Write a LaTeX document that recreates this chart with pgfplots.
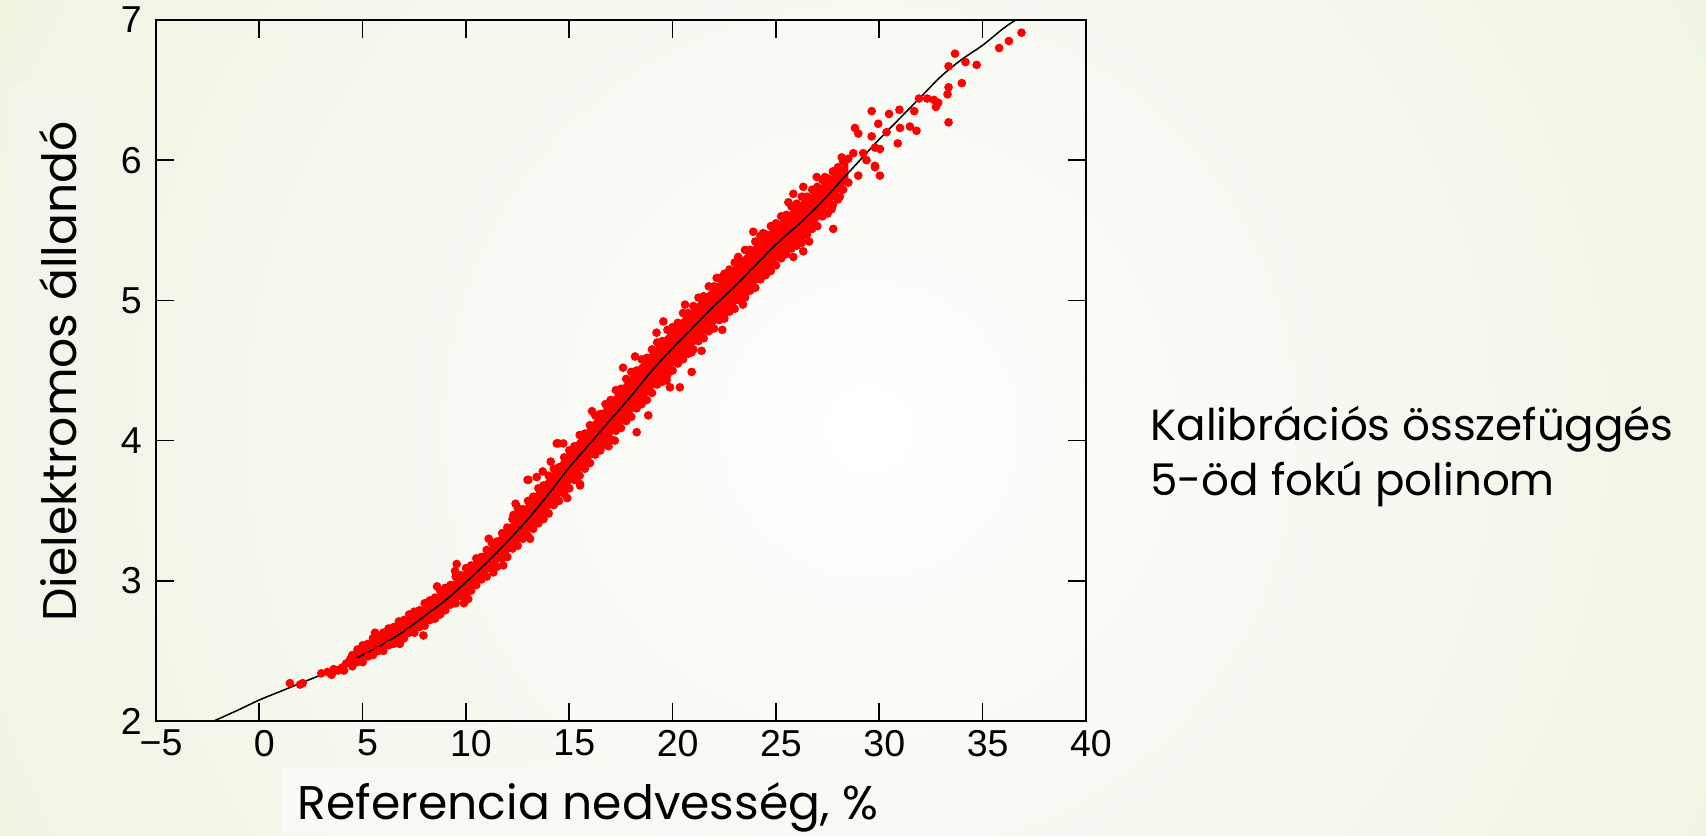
\documentclass[border=0pt]{standalone}
\usepackage{pgfplots}
\pgfplotsset{compat=1.18}
\usepackage{fontspec}
\setmainfont{Liberation Sans}
\newfontfamily\labelfont{Poppins}
\definecolor{bgout}{HTML}{DDE8C4}
\definecolor{ylbox}{HTML}{F2F6EA}
\definecolor{xlbox}{HTML}{F8FAF4}
\definecolor{dotred}{HTML}{FF0000}

\begin{document}
\begin{tikzpicture}
\fill[bgout] (0,0) rectangle (614.16pt,300.6pt);
\begin{scope}
\clip (0,0) rectangle (614.16pt,300.6pt);
\shade[inner color=white, outer color=bgout] (313pt,146pt) circle (720pt);
\end{scope}
\path[use as bounding box] (0,0) rectangle (614.16pt,300.6pt);
\fill[ylbox] (3.24pt,71.64pt) rectangle (34.2pt,270pt);
\fill[xlbox] (101.16pt,0pt) rectangle (330.12pt,24.48pt);

\begin{axis}[
  at={(56.16pt,41.04pt)}, anchor=south west,
  width=334.8pt, height=252.36pt, scale only axis,
  xmin=-5, xmax=40, ymin=2, ymax=7,
  xtick={-5,0,5,10,15,20,25,30,35,40}, ytick={2,3,4,5,6,7},
  xticklabels={−5,0,5,10,15,20,25,30,35,40},
  yticklabels={2,3,4,5,6,7},
  tick align=inside, tick pos=both,
  major tick length=6.5pt,
  axis line style={line width=0.75pt},
  every tick/.style={black, line width=0.6pt},
  tick label style={font=\fontsize{13.5}{14}\selectfont},
  xticklabel style={xshift=1.8pt, yshift=0.3pt},
  yticklabel style={xshift=-1.6pt},
  clip=true,
]
% dense core of the measured points
\addplot[fill=dotred, draw=none] coordinates {
(4.3,2.45)(5,2.53)(6,2.62)(7,2.72)(8,2.83)(9,2.95)(10,3.08)(11,3.22)(12,3.38)(13,3.56)(14,3.74)(15,3.93)(16,4.11)(17,4.29)(18,4.47)(19,4.64)(20,4.80)(21,4.95)(22,5.10)(23,5.25)(24,5.40)(25,5.54)(26,5.68)(27,5.80)(28,5.93)(28.5,5.99)
(28.5,5.86)(28,5.76)(27,5.56)(26,5.41)(25,5.27)(24,5.11)(23,4.96)(22,4.82)(21,4.67)(20,4.52)(19,4.36)(18,4.19)(17,4.03)(16,3.86)(15,3.68)(14,3.50)(13,3.34)(12,3.19)(11,3.05)(10,2.91)(9,2.80)(8,2.69)(7,2.60)(6,2.52)(5,2.44)(4.3,2.39)
};
% individual measured points
\addplot[only marks, mark=*, mark size=1.35pt, mark options={draw=dotred, fill=dotred}] coordinates {
(1.48,2.27)(1.97,2.26)(2.1,2.27)
(3.0,2.34)(3.3,2.35)(3.5,2.33)(3.6,2.37)(3.8,2.36)(4.0,2.38)(4.1,2.36)(4.2,2.41)(4.4,2.44)
(4.5,2.47)(4.75,2.51)(5.0,2.54)(5.25,2.55)(5.5,2.59)(5.75,2.60)(6.0,2.63)(6.25,2.66)(6.5,2.67)(6.75,2.71)
(7.0,2.72)(7.25,2.76)(7.5,2.78)(7.75,2.79)(8.0,2.84)(8.25,2.86)(8.5,2.88)(8.75,2.93)(9.0,2.95)(9.25,2.97)
(9.5,3.03)(9.75,3.04)(10.0,3.09)(10.25,3.11)(10.5,3.16)(10.75,3.17)(11.0,3.22)(11.25,3.27)(11.5,3.28)(11.75,3.34)
(12.0,3.38)(12.25,3.44)(12.5,3.47)(12.75,3.51)(13.0,3.57)(13.25,3.60)(13.5,3.66)(13.75,3.68)(14.0,3.75)(14.25,3.80)
(14.5,3.81)(14.75,3.88)(15.0,3.93)(15.25,3.96)(15.5,4.04)(15.75,4.05)(16.0,4.11)(16.25,4.18)(16.5,4.19)(16.75,4.26)
(17.0,4.29)(17.25,4.36)(17.5,4.37)(17.75,4.44)(18.0,4.49)(18.25,4.50)(18.5,4.58)(18.75,4.59)(19.0,4.65)(19.25,4.70)
(19.5,4.71)(19.75,4.79)(20.0,4.81)(20.25,4.84)(20.5,4.91)(20.75,4.91)(21.0,4.96)(21.25,5.02)(21.5,5.03)(21.75,5.10)
(22.0,5.10)(22.25,5.16)(22.5,5.19)(22.75,5.22)(23.0,5.27)(23.25,5.28)(23.5,5.36)(23.75,5.36)(24.0,5.42)(24.25,5.46)
(24.5,5.47)(24.75,5.53)(25.0,5.55)(25.25,5.60)(25.5,5.61)(25.75,5.67)(26.0,5.69)(26.25,5.74)(26.5,5.74)(26.75,5.79)
(27.0,5.81)(27.25,5.86)(27.5,5.87)(27.75,5.92)(28.0,5.95)(28.25,5.99)(28.5,6.01)
(4.5,2.39)(4.75,2.42)(5.0,2.42)(5.25,2.46)(5.5,2.47)(5.75,2.50)(6.0,2.50)(6.25,2.54)(6.5,2.55)(6.75,2.57)
(7.0,2.59)(7.25,2.63)(7.5,2.63)(7.75,2.67)(8.0,2.68)(8.25,2.72)(8.5,2.73)(8.75,2.76)(9.0,2.79)(9.25,2.83)
(9.5,2.84)(9.75,2.89)(10.0,2.90)(10.25,2.93)(10.5,2.97)(10.75,3.01)(11.0,3.03)(11.25,3.09)(11.5,3.10)(11.75,3.16)
(12.0,3.17)(12.25,3.23)(12.5,3.25)(12.75,3.30)(13.0,3.32)(13.25,3.37)(13.5,3.41)(13.75,3.44)(14.0,3.48)(14.25,3.54)
(14.5,3.57)(14.75,3.62)(15.0,3.66)(15.25,3.72)(15.5,3.75)(15.75,3.80)(16.0,3.84)(16.25,3.90)(16.5,3.93)(16.75,3.97)
(17.0,4.01)(17.25,4.07)(17.5,4.09)(17.75,4.14)(18.0,4.17)(18.25,4.23)(18.5,4.26)(18.75,4.29)(19.0,4.34)(19.25,4.40)
(19.5,4.42)(19.75,4.47)(20.0,4.50)(20.25,4.55)(20.5,4.58)(20.75,4.62)(21.0,4.65)(21.25,4.71)(21.5,4.73)(21.75,4.78)
(22.0,4.80)(22.25,4.86)(22.5,4.87)(22.75,4.92)(23.0,4.94)(23.25,5.00)(23.5,5.02)(23.75,5.07)(24.0,5.09)(24.25,5.15)
(24.5,5.18)(24.75,5.21)(25.0,5.25)(25.25,5.30)(25.5,5.33)(25.75,5.37)(26.0,5.39)(26.25,5.45)(26.5,5.47)(26.75,5.51)
(27.0,5.53)(27.25,5.60)(27.5,5.62)(27.75,5.68)(28.0,5.72)(28.25,5.79)(28.5,5.84)
(5.6,2.63)(6.8,2.55)(8.6,2.96)(9.9,2.84)(11.1,3.30)(11.8,3.11)(13.1,3.30)(14.1,3.85)(14.9,3.59)(16.1,4.21)
(16.9,3.96)(17.6,4.52)(17.2,4.00)(20.6,4.97)(21.4,4.64)(23.9,5.49)(23.4,4.97)(25.6,5.70)(26.6,5.42)
(9.55,3.12)(9.47,3.07)(7.94,2.61)(10.11,2.87)(11.32,3.06)(12.3,3.47)(12.5,3.52)(12.6,3.50)(12.4,3.55)(13.42,3.74)
(12.98,3.72)(13.02,3.72)(13.71,3.78)(14.39,3.98)(14.47,3.98)(14.71,3.98)(15.52,3.69)(15.52,3.68)(18.26,4.06)(18.82,4.18)
(18.18,4.60)(19.22,4.77)(19.55,4.85)(19.71,4.43)(19.87,4.38)(20.35,4.38)(20.92,4.49)(20.92,4.63)(22.13,5.16)(22.40,4.79)
(22.50,4.90)(23.17,5.31)(23.50,5.04)(24.38,5.22)(24.38,5.48)(24.74,5.24)(25.27,5.33)(25.84,5.31)(25.84,5.76)(26.24,5.41)
(26.32,5.35)(26.32,5.81)(26.80,5.56)(26.97,5.88)(27.37,5.88)(27.69,5.65)(27.77,5.51)(28.09,5.74)(28.18,6.02)(28.98,5.89)
(29.79,5.96)(30.03,5.89)(28.74,6.05)(28.82,6.23)(28.98,6.19)(29.22,6.05)(29.38,6.00)(29.63,6.35)(29.63,6.17)(29.79,6.09)
(29.79,5.95)(29.95,6.26)(30.03,6.08)(30.35,6.20)(30.47,6.33)(30.89,6.12)(30.97,6.36)(31.0,6.23)(31.48,6.24)(31.69,6.35)
(31.80,6.21)(31.92,6.44)(32.32,6.44)(32.64,6.43)(32.74,6.38)(32.85,6.41)(33.35,6.27)(33.35,6.52)(33.3,6.47)(33.35,6.67)
(33.66,6.76)(33.99,6.55)(34.17,6.70)(34.71,6.68)(35.80,6.80)(36.27,6.85)(36.88,6.91)
};
% 5th-degree polynomial fit
\addplot[black, line width=0.55pt, smooth, tension=0.5] coordinates {
(-2.2,2.00)(-1,2.08)(0,2.15)(1,2.21)(2,2.27)(3,2.33)(4,2.40)(5,2.47)(6,2.55)(7,2.64)(8,2.75)(9,2.86)(10,2.99)(11,3.13)(12,3.28)(13,3.44)(14,3.62)(15,3.81)(16,3.98)(17,4.15)(18,4.32)(19,4.50)(20,4.66)(21,4.81)(22,4.96)(23,5.10)(24,5.25)(25,5.40)(26,5.53)(27,5.67)(28,5.83)(29,5.99)(30,6.15)(31,6.30)(32,6.45)(33,6.60)(34,6.72)(35,6.82)(36,6.94)(36.6,7.00)
};
\end{axis}

\node[anchor=base, rotate=90, inner sep=0pt, font=\labelfont\fontsize{17}{20}\selectfont] at (27.36pt,166.9pt) {Dielektromos állandó};
\node[anchor=base, inner sep=0pt, font=\labelfont\fontsize{17}{20}\selectfont] at (211.7pt,5.6pt) {Referencia nedvesség, \%};
\node[anchor=base west, inner sep=0pt, font=\labelfont\fontsize{15.7}{18}\selectfont] at (414pt,141.84pt) {Kalibrációs összefüggés};
\node[anchor=base west, inner sep=0pt, font=\labelfont\fontsize{15.7}{18}\selectfont] at (414pt,122.4pt) {5-öd fokú polinom};
\end{tikzpicture}
\end{document}
